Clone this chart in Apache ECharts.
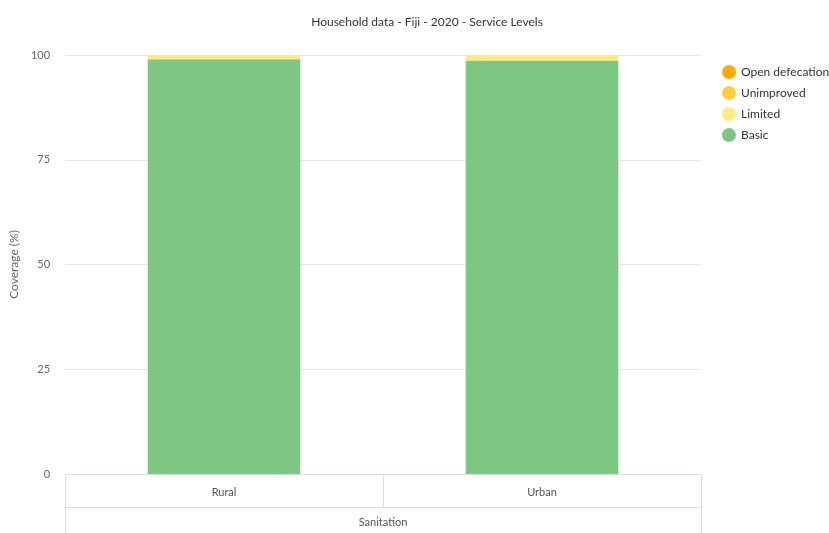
<!DOCTYPE html>
<html>
<head>
<meta charset="utf-8">
<script src="https://cdn.jsdelivr.net/npm/echarts@6/dist/echarts.min.js"></script>
<style>
  html, body { margin: 0; padding: 0; background: #fff; }
  #chart { width: 829px; height: 533px; }
</style>
</head>
<body>
<div id="chart"></div>
<script>
// Household sanitation service levels, Fiji 2020 (% of population)
const areas = ['Rural', 'Urban'];
const groupLabel = ['Sanitation'];
const basic = [99.0, 98.7];
const limited = [1.0, 1.3];
const unimproved = [0, 0];
const openDefecation = [0, 0];
const yTicks = [0, 25, 50, 75, 100];

const colors = {
  open: '#FFAA00',
  unimproved: '#FFCD3F',
  limited: '#FFEC80',
  basic: '#80C683'
};
const borderCol = '#d5ddea';
const font = 'Lato, "Noto Sans", sans-serif';

const chart = echarts.init(document.getElementById('chart'));

function stackSeries(name, data, color) {
  return {
    name: name,
    type: 'bar',
    stack: 'total',
    barWidth: '48%',
    data: data,
    itemStyle: { color: color },
    emphasis: { disabled: true }
  };
}

chart.setOption({
  animation: false,
  textStyle: { fontFamily: font },
  title: {
    text: 'Household data - Fiji - 2020 - Service Levels',
    left: 422,
    textAlign: 'center',
    top: 11,
    textStyle: { fontSize: 12, fontWeight: 'normal', color: '#333', fontFamily: font }
  },
  legend: {
    orient: 'vertical',
    left: 717,
    top: 60,
    itemGap: 7,
    itemWidth: 14,
    itemHeight: 14,
    icon: 'circle',
    data: ['Open defecation', 'Unimproved', 'Limited', 'Basic'],
    textStyle: { fontSize: 12, color: '#333', fontFamily: font }
  },
  grid: { left: 65, right: 128, top: 55, bottom: 59, containLabel: false },
  xAxis: [
    {
      type: 'category',
      data: areas,
      position: 'bottom',
      axisLine: { show: true, lineStyle: { color: borderCol } },
      axisTick: { show: true, length: 33, interval: 0, lineStyle: { color: borderCol } },
      axisLabel: { margin: 13, fontSize: 11, color: '#555', fontFamily: font }
    },
    {
      type: 'category',
      data: groupLabel,
      position: 'bottom',
      offset: 33,
      axisLine: { show: true, lineStyle: { color: borderCol } },
      axisTick: { show: true, length: 30, interval: 0, lineStyle: { color: borderCol } },
      axisLabel: { margin: 10, fontSize: 11, color: '#555', fontFamily: font }
    }
  ],
  yAxis: {
    type: 'value',
    min: 0,
    max: 100,
    interval: 25,
    name: 'Coverage (%)',
    nameLocation: 'middle',
    nameGap: 38,
    nameTextStyle: { fontSize: 12, color: '#666', fontFamily: font },
    axisLine: { show: false },
    axisTick: { show: false },
    axisLabel: { margin: 15, fontSize: 11, color: '#666', fontFamily: font },
    splitLine: { lineStyle: { color: '#e6e6e6' } }
  },
  series: [
    stackSeries('Basic', basic, colors.basic),
    stackSeries('Limited', limited, colors.limited),
    stackSeries('Unimproved', unimproved, colors.unimproved),
    stackSeries('Open defecation', openDefecation, colors.open)
  ]
});
</script>
</body>
</html>
